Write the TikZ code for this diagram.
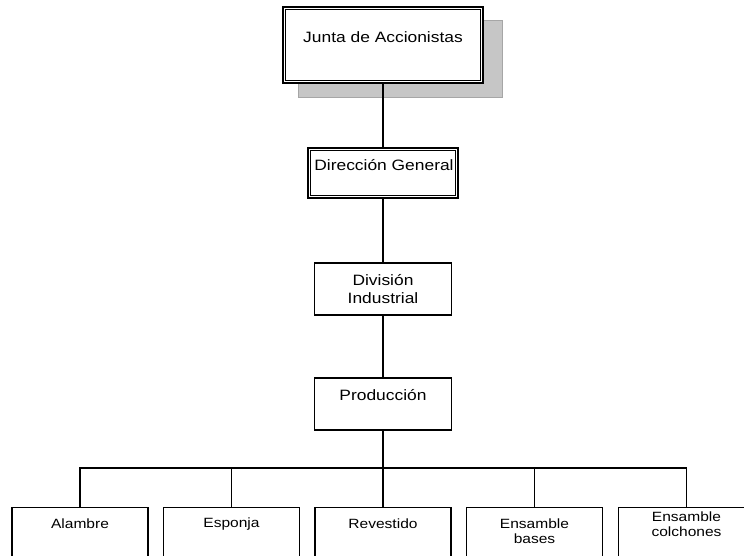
\documentclass[tikz,border=0pt]{standalone}
\usepackage{fontspec}
\setmainfont{Liberation Sans}
\newfontfamily\orgfont[FakeStretch=1.16]{Liberation Sans}
\begin{document}
\begin{tikzpicture}[x=1pt,y=-1pt,
  unit/.style={draw=black, fill=white, line width=1.4pt, inner sep=0pt},
  headbox/.style={unit, line width=2pt},
  lbl/.style={font=\orgfont\fontsize{15}{17.5}\selectfont, align=center, inner sep=0pt},
  sublbl/.style={font=\orgfont\fontsize{13.4}{15}\selectfont, align=center, inner sep=0pt},
  spine/.style={line width=2.6pt},
  bus/.style={line width=1.3pt}]
\clip (0,0) rectangle (744,556);
\fill[white] (0,0) rectangle (744,556);

% shadow behind the top box
\fill[gray!45, draw=gray!70, line width=0.6pt] (298,20) rectangle (502,97);

% top levels
\node[headbox, minimum width=200pt, minimum height=76pt] (jta) at (383,45) {};
\draw[line width=0.9pt] ([shift={(3.5,3.5)}]jta.north west) rectangle ([shift={(-3.5,-3.5)}]jta.south east);
\node[lbl] (jtat) at (383,37) {Junta de Accionistas};

\node[headbox, minimum width=150pt, minimum height=50pt] (dg) at (383,173) {};
\draw[line width=0.9pt] ([shift={(3.5,3.5)}]dg.north west) rectangle ([shift={(-3.5,-3.5)}]dg.south east);
\node[lbl] (dgt) at (384,165) {Dirección General};

\node[unit, minimum width=137pt, minimum height=52pt] (di) at (383,289) {};
\node[lbl] (dit) at (383,289) {División\\Industrial};

\node[unit, minimum width=137pt, minimum height=52pt] (pr) at (383,404) {};
\node[lbl] (prt) at (383,395) {Producción};

% spine
\draw[spine] (jta.south) -- (dg.north);
\draw[spine] (dg.south) -- (di.north);
\draw[spine] (di.south) -- (pr.north);
\coordinate (hub) at (383,468);
\draw[spine] (pr.south) -- (hub);

% bottom row
\node[unit, minimum width=136pt, minimum height=70pt, anchor=north] (al) at (80,507) {};
\node[unit, minimum width=136pt, minimum height=70pt, anchor=north] (es) at (231.5,507) {};
\node[unit, minimum width=136pt, minimum height=70pt, anchor=north] (re) at (383,507) {};
\node[unit, minimum width=136pt, minimum height=70pt, anchor=north] (eb) at (534.5,507) {};
\node[unit, minimum width=136pt, minimum height=70pt, anchor=north] (ec) at (686.5,507) {};

\node[sublbl] (alt) at (80,524) {Alambre};
\node[sublbl] (est) at (231.5,524) {Esponja};
\node[sublbl] (ret) at (383,524) {Revestido};
\node[sublbl] (ebt) at (534.5,531) {Ensamble\\bases};
\node[sublbl] (ect) at (686.5,524) {Ensamble\\colchones};

% distribution bus
\draw[bus] (al.north) |- (hub) -| (ec.north);
\draw[bus] (es.north) -- (es.north |- hub);
\draw[bus] (eb.north) -- (eb.north |- hub);
\draw[spine] (hub) -- (re.north);
\end{tikzpicture}
\end{document}
